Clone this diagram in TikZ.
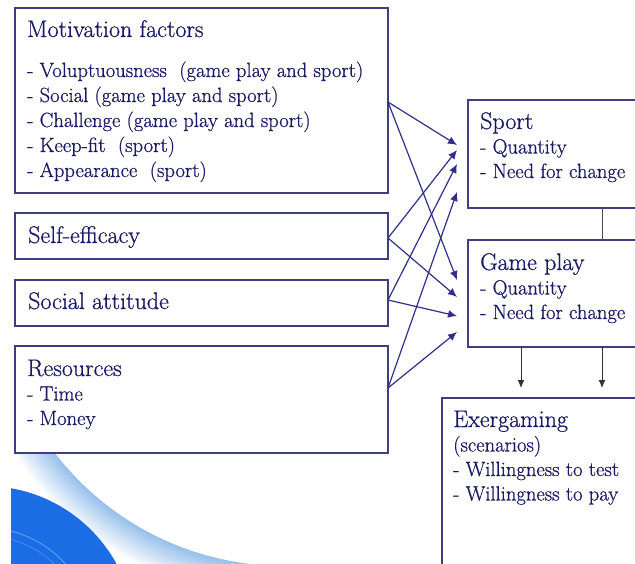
\documentclass[tikz,border=0pt]{standalone}
\usepackage{fontspec}
\setmainfont{Latin Modern Roman}[UprightFeatures={FakeBold=0.7}]
\usetikzlibrary{arrows.meta}

\definecolor{navytext}{HTML}{191966}
\definecolor{boxline}{HTML}{3F3F80}
\definecolor{linkblue}{HTML}{30308C}
\definecolor{swooshblue}{HTML}{1B6DE5}
\definecolor{swooshlight}{HTML}{98C0EB}

\newcommand{\headsize}{\fontsize{24}{26}\selectfont}
\newcommand{\listsize}{\fontsize{20.6}{24.5}\selectfont}

\begin{document}
\begin{tikzpicture}[x=1pt, y=-1pt, >=Latex,
    box/.style={draw=boxline, line width=1.3pt, fill=white, anchor=north west, inner sep=0pt, outer sep=0pt},
    txt/.style={anchor=base west, inner sep=0pt, text=navytext},
    infl/.style={->, draw=linkblue, line width=1.2pt, >={Latex[length=9pt,width=8pt]}},
    down/.style={->, draw=black!80, line width=1pt, >={Latex[length=8pt,width=7pt]}},
    link/.style={draw=black!70, line width=1pt}]
  \clip (0,0) rectangle (635,564);
  \fill[white] (0,0) rectangle (635,564);

  % swoosh in the lower left corner
  \begin{scope}
    \clip (0,453) rectangle (262,564);
    \foreach \i [evaluate=\i as \pct using 100-6*\i] in {0,...,15}
      \draw[swooshlight!\pct!white, line width=2.2pt] (284,277) circle[radius=290+2*\i];
  \end{scope}
  \begin{scope}
    \clip (11,453) rectangle (320,564);
    \fill[swooshblue] (-15,636) circle[radius=150];
    \draw[white, opacity=0.3, line width=1pt] (-15,636) circle[radius=108];
    \draw[white, opacity=0.2, line width=0.8pt] (-15,636) circle[radius=100];
  \end{scope}

  \node[box, minimum width=373pt, minimum height=185pt] (motiv) at (15,8) {};
  \node[box, minimum width=373pt, minimum height=46pt] (self) at (15,213) {};
  \node[box, minimum width=373pt, minimum height=46pt] (soc) at (15,280) {};
  \node[box, minimum width=373pt, minimum height=107pt] (res) at (15,346) {};
  \node[box, minimum width=180pt, minimum height=108pt] (sport) at (468,100) {};
  \node[box, minimum width=180pt, minimum height=107pt] (game) at (468,240) {};
  \node[box, minimum width=210pt, minimum height=180pt] (exer) at (442,398) {};

  \node[txt] (motiv-text) at ([xshift=12pt,yshift=-29pt]motiv.north west)
    {\parbox[t]{370pt}{\fontsize{20.6}{25}\selectfont {\headsize Motivation factors}\\[15pt]
      - Voluptuousness~ (game play and sport)\\
      - Social (game play and sport)\\
      - Challenge (game play and sport)\\
      - Keep-fit~ (sport)\\
      - Appearance~ (sport)}};
  \node[txt] (self-text) at ([xshift=13pt,yshift=-30pt]self.north west) {\headsize Self-efficacy};
  \node[txt] (soc-text) at ([xshift=13pt,yshift=-29pt]soc.north west) {\headsize Social attitude};
  \node[txt] (res-text) at ([xshift=12pt,yshift=-30pt]res.north west)
    {\parbox[t]{300pt}{\listsize {\headsize Resources}\\ - Time\\ - Money}};
  \node[txt] (sport-text) at ([xshift=12pt,yshift=-29pt]sport.north west)
    {\parbox[t]{170pt}{\listsize {\headsize Sport}\\ - Quantity\\ - Need for change}};
  \node[txt] (game-text) at ([xshift=12pt,yshift=-30pt]game.north west)
    {\parbox[t]{170pt}{\listsize {\headsize Game play}\\ - Quantity\\ - Need for change}};
  \node[txt] (exer-text) at ([xshift=11pt,yshift=-29pt]exer.north west)
    {\parbox[t]{190pt}{\listsize {\headsize Exergaming}\\ (scenarios)\\
      - Willingness to test\\ - Willingness to pay}};

  \draw[infl] ([yshift=-1.5pt]motiv.east) -- ([xshift=-11pt,yshift=-45pt]sport.north west);
  \draw[infl] ([yshift=-1.5pt]motiv.east) -- ([xshift=-11pt,yshift=-40pt]game.north west);
  \draw[infl] ([yshift=-2pt]self.east) -- ([xshift=-11pt,yshift=-50pt]sport.north west);
  \draw[infl] ([yshift=-2pt]self.east) -- ([xshift=-11pt,yshift=-57pt]game.north west);
  \draw[infl] ([yshift=3pt]soc.east) -- ([xshift=-11pt,yshift=-64pt]sport.north west);
  \draw[infl] ([yshift=3pt]soc.east) -- ([xshift=-11pt,yshift=-76pt]game.north west);
  \draw[infl] ([yshift=11.5pt]res.east) -- ([xshift=-11pt,yshift=-92pt]sport.north west);
  \draw[infl] ([yshift=11.5pt]res.east) -- ([xshift=-11pt,yshift=-92pt]game.north west);

  \draw[link] ([xshift=134pt]sport.south west) -- ([xshift=134pt]game.north west);
  \draw[down] ([xshift=53pt]game.south west) -- ([xshift=79pt,yshift=10pt]exer.north west);
  \draw[down] ([xshift=134pt]game.south west) -- ([xshift=160pt,yshift=10pt]exer.north west);
\end{tikzpicture}
\end{document}
